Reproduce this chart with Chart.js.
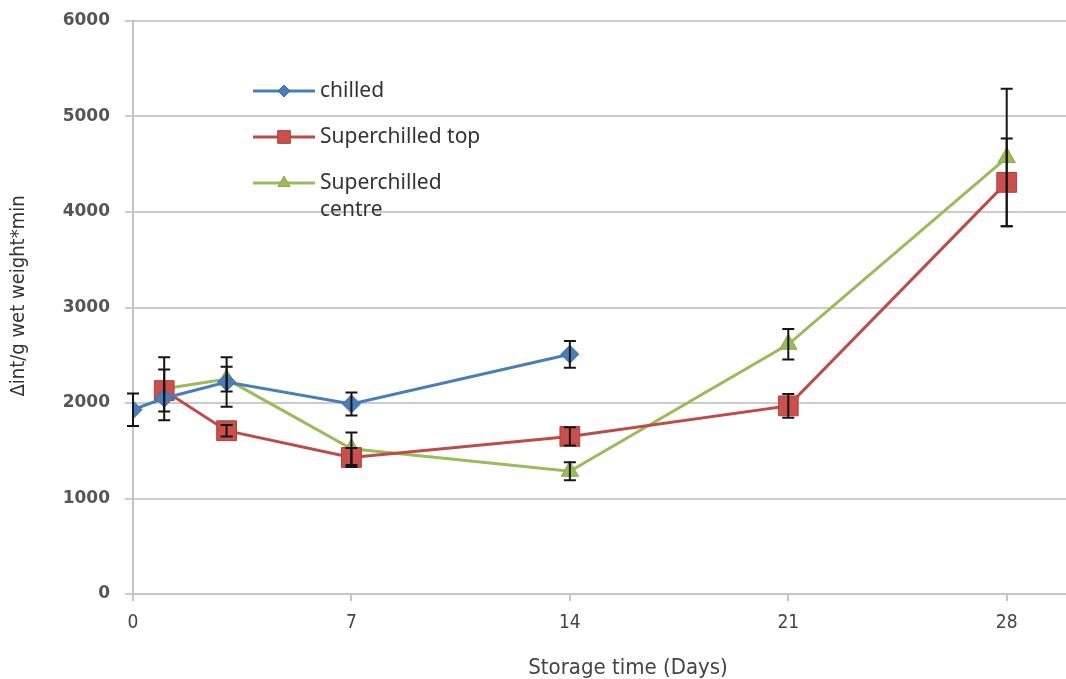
<!DOCTYPE html>
<html>
<head>
<meta charset="utf-8">
<script src="https://cdn.jsdelivr.net/npm/chart.js@4.4.1/dist/chart.umd.min.js"></script>
<style>
  html, body { margin: 0; padding: 0; background: #ffffff; }
  #wrap { width: 1066px; height: 679px; position: relative; }
</style>
</head>
<body>
<div id="wrap"><canvas id="c" width="1066" height="679"></canvas></div>
<script>
// Storage trial: Δint per g wet weight over storage time
const xTickDays = [0, 7, 14, 21, 28];
const yTickValues = [0, 1000, 2000, 3000, 4000, 5000, 6000];

const chilledDays   = [0, 1, 3, 7, 14];
const chilledValues = [1930, 2050, 2220, 1990, 2510];
const chilledErr    = [170, null, 260, 120, 140];

const topDays   = [1, 3, 7, 14, 21, 28];
const topValues = [2130, 1710, 1430, 1650, 1970, 4310];
const topErr    = [220, 60, 100, 95, 125, 460];

const centreDays   = [1, 3, 7, 14, 21, 28];
const centreValues = [2150, 2250, 1520, 1285, 2615, 4570];
const centreErr    = [330, 130, 170, 95, 160, 720];

const seriesNames = ['chilled', 'Superchilled top', ['Superchilled', 'centre']];
const yTitle = 'Δint/g wet weight*min';
const xTitle = 'Storage time (Days)';

const narrow = "'Liberation Sans Narrow', 'DejaVu Sans Condensed', 'Open Sans', sans-serif";

function pts(xs, ys) { return xs.map((x, i) => ({ x: x, y: ys[i] })); }

const datasets = [
  {
    label: 'chilled',
    data: pts(chilledDays, chilledValues),
    errors: chilledErr,
    borderColor: '#4a7ebb', backgroundColor: '#4a7ebb',
    pointStyle: 'rectRot', pointRadius: 9, pointBorderColor: '#3f6ea8', pointBorderWidth: 1,
    legendRadius: 6,
    borderWidth: 3, tension: 0
  },
  {
    label: 'Superchilled top',
    data: pts(topDays, topValues),
    errors: topErr,
    borderColor: '#be4b48', backgroundColor: '#c9504c',
    pointStyle: 'rect', pointRadius: 14, pointBorderColor: '#b0403d', pointBorderWidth: 1,
    legendRadius: 9,
    borderWidth: 3, tension: 0
  },
  {
    label: 'Superchilled centre',
    data: pts(centreDays, centreValues),
    errors: centreErr,
    borderColor: '#9bbb59', backgroundColor: '#9bbb59',
    pointStyle: 'triangle', pointRadius: 10, pointBorderColor: '#8aaa4a', pointBorderWidth: 1,
    legendRadius: 7,
    borderWidth: 3, tension: 0
  }
];

// Vertical error bars with caps, drawn on top of the series
const errorBarPlugin = {
  id: 'errorBars',
  afterDatasetsDraw(chart) {
    const ctx = chart.ctx;
    const xs = chart.scales.x, ys = chart.scales.y;
    ctx.save();
    ctx.strokeStyle = '#151515';
    ctx.lineWidth = 2;
    chart.data.datasets.forEach(ds => {
      ds.data.forEach((p, i) => {
        const e = ds.errors[i];
        if (e == null) return;
        const px = xs.getPixelForValue(p.x);
        const yTop = ys.getPixelForValue(p.y + e);
        const yBot = ys.getPixelForValue(p.y - e);
        ctx.beginPath();
        ctx.moveTo(px, yTop); ctx.lineTo(px, yBot);
        ctx.moveTo(px - 6, yTop); ctx.lineTo(px + 6, yTop);
        ctx.moveTo(px - 6, yBot); ctx.lineTo(px + 6, yBot);
        ctx.stroke();
      });
    });
    ctx.restore();
  }
};

// Legend placed inside the plot area, plus the axis captions
const innerLegendPlugin = {
  id: 'innerLegend',
  afterDraw(chart) {
    const ctx = chart.ctx;
    const rows = [91, 137, 183];
    ctx.save();
    chart.data.datasets.forEach((ds, i) => {
      const y = rows[i];
      ctx.strokeStyle = ds.borderColor;
      ctx.lineWidth = 3;
      ctx.beginPath();
      ctx.moveTo(253, y); ctx.lineTo(315, y);
      ctx.stroke();
      ctx.fillStyle = ds.backgroundColor;
      ctx.strokeStyle = ds.pointBorderColor;
      ctx.lineWidth = 1;
      Chart.helpers.drawPoint(ctx, { pointStyle: ds.pointStyle, radius: ds.legendRadius, borderWidth: 1, rotation: 0 }, 284, y);
      const name = seriesNames[i];
      const lines = Array.isArray(name) ? name : [name];
      ctx.fillStyle = '#333333';
      ctx.font = "21px 'Noto Sans', sans-serif";
      ctx.textAlign = 'left';
      ctx.textBaseline = 'middle';
      lines.forEach((t, k) => ctx.fillText(t, 320, y + k * 27));
    });
    ctx.fillStyle = '#444444';
    ctx.font = '22px ' + narrow;
    ctx.textAlign = 'center';
    ctx.textBaseline = 'middle';
    ctx.fillText(xTitle, 628, 668);

    ctx.fillStyle = '#333333';
    ctx.font = '20px ' + narrow;
    ctx.translate(19, 296);
    ctx.rotate(-Math.PI / 2);
    ctx.fillText(yTitle, 0, 0);
    ctx.restore();
  }
};

new Chart(document.getElementById('c'), {
  type: 'line',
  data: { datasets: datasets },
  options: {
    responsive: false,
    animation: false,
    devicePixelRatio: 1,
    layout: { autoPadding: false, padding: { top: 21, right: 0, bottom: 0, left: 0 } },
    plugins: { legend: { display: false }, tooltip: { enabled: false } },
    scales: {
      x: {
        type: 'linear',
        min: 0,
        max: 29.9,
        afterBuildTicks: s => { s.ticks = xTickDays.map(v => ({ value: v })); },
        afterFit: s => { s.height = 85; s.paddingLeft = 0; s.paddingRight = 0; },
        ticks: { color: '#444444', font: { family: narrow, size: 19 }, padding: 11, maxRotation: 0 },
        grid: { display: true, drawOnChartArea: false, drawTicks: true, tickLength: 7, color: '#c4c4c4', lineWidth: 2 },
        border: { display: true, color: '#c4c4c4', width: 2 }
      },
      y: {
        min: 0,
        max: 6000,
        afterBuildTicks: s => { s.ticks = yTickValues.map(v => ({ value: v })); },
        afterFit: s => { s.width = 133; s.paddingTop = 0; s.paddingBottom = 0; },
        ticks: {
          color: '#555555',
          font: { family: "'DejaVu Sans', Verdana, sans-serif", size: 17, weight: 'bold' },
          padding: 15,
          callback: v => String(v)
        },
        grid: { color: '#cccccc', lineWidth: 2, tickLength: 8 },
        border: { display: true, color: '#c4c4c4', width: 2 }
      }
    }
  },
  plugins: [errorBarPlugin, innerLegendPlugin]
});
</script>
</body>
</html>
